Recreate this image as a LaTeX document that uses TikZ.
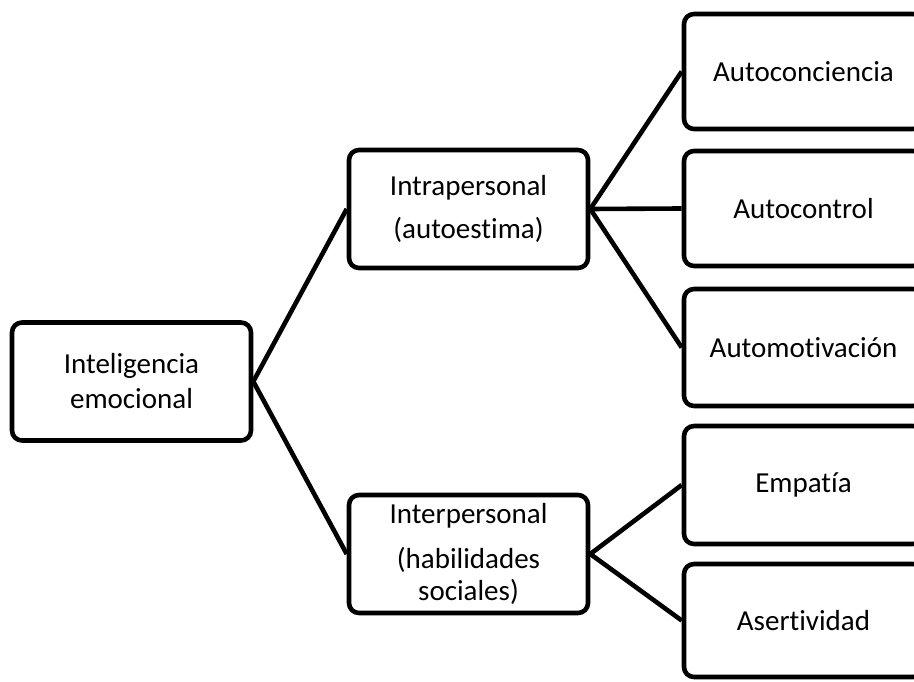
\documentclass[tikz,border=0pt]{standalone}
\usepackage{fontspec}
\setmainfont{Carlito}[Ligatures=NoCommon]

\begin{document}
\begin{tikzpicture}[x=1pt,y=-1pt]

\pgfmathsetmacro{\boxw}{239}
\pgfmathsetmacro{\boxh}{118}
\pgfmathsetmacro{\colL}{131.5}
\pgfmathsetmacro{\colM}{468.5}
\pgfmathsetmacro{\colR}{803.5}

\tikzset{
  box/.style={draw=black, line width=4.6pt, fill=white,
              rounded corners=10pt,
              minimum width=\boxw*1pt,
              minimum height=\boxh*1pt,
              inner sep=0pt, align=center,
              font=\fontsize{29}{35}\selectfont},
  link/.style={line width=4.6pt, black}
}

\clip (0,0) rectangle (914,682);

% NODES

\node(emocional)[box] at (\colL,381.5) {Inteligencia\\emocional};

\node(intra)[box] at (\colM,209) {Intrapersonal\\[8pt](autoestima)};
\node(inter)[box] at (\colM,554) {Interpersonal\\[10pt](habilidades\\[-3pt]sociales)};

\node(concien)[box, minimum height=115pt] at (\colR,71.5)  {Autoconciencia};
\node(control)[box, minimum height=115pt] at (\colR,208.5) {Autocontrol};
\node(motiva)[box, minimum height=117pt]  at (\colR,347.5) {Automotivación};
\node(empatia)[box] at (\colR,485)   {Empatía};
\node(asert)[box, minimum height=113pt]   at (\colR,620.5) {Asertividad};

% LINKS

\draw[link] (emocional.east) -- (intra.west);
\draw[link] (emocional.east) -- (inter.west);

\draw[link] (intra.east) -- (concien.west);
\draw[link] (intra.east) -- (control.west);
\draw[link] (intra.east) -- (motiva.west);

\draw[link] (inter.east) -- (empatia.west);
\draw[link] (inter.east) -- (asert.west);

\end{tikzpicture}
\end{document}
